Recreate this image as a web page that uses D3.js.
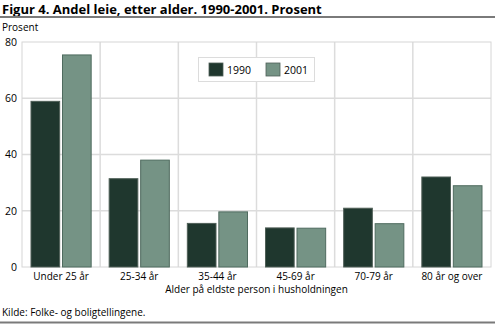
<!DOCTYPE html>
<html><head><meta charset="utf-8">
<script src="https://cdn.jsdelivr.net/npm/d3@7"></script>
<style>body{margin:0;background:#fff}svg{display:block}text{font-family:"Open Sans",sans-serif}</style>
</head><body><svg id="c" width="495" height="324"></svg>
<script>
const categories = ["Under 25 år","25-34 år","35-44 år","45-69 år","70-79 år","80 år og over"];
const seriesNames = ["1990","2001"];
const values1990 = [58.9,31.4,15.5,13.9,20.9,32.0];
const values2001 = [75.4,38.0,19.6,13.8,15.4,28.9];
const yTicks = [0,20,40,60,80];
const colors = ["#1f372e","#759385"];

const svg = d3.select("#c");
const m = {l:22, r:491, t:42, b:267};
const x0 = d3.scaleBand().domain(categories).range([m.l, m.r]).paddingInner(0).paddingOuter(0);
const x1 = d3.scaleBand().domain(seriesNames).range([9, x0.bandwidth()-9]).paddingInner(0.09).paddingOuter(0);
const y = d3.scaleLinear().domain([0,80]).range([m.b, m.t]);

// title
svg.append("text").attr("x",2).attr("y",14).attr("font-size",13).attr("font-weight","bold").attr("fill","#000")
  .text("Figur 4. Andel leie, etter alder. 1990-2001. Prosent");
svg.append("line").attr("x1",0).attr("x2",495).attr("y1",17).attr("y2",17).attr("stroke","#7a7a7a").attr("stroke-width",2);
svg.append("text").attr("x",2).attr("y",31).attr("font-size",10).attr("fill","#000").text("Prosent");

// grid
const g = svg.append("g");
g.selectAll("line.h").data(yTicks.filter(d=>d>0&&d<80)).join("line")
  .attr("x1",m.l).attr("x2",m.r).attr("y1",d=>y(d)).attr("y2",d=>y(d)).attr("stroke","#dcdcdc").attr("stroke-width",1.5);
g.selectAll("line.v").data(categories.slice(1)).join("line")
  .attr("x1",d=>x0(d)).attr("x2",d=>x0(d)).attr("y1",m.t).attr("y2",m.b).attr("stroke","#dcdcdc").attr("stroke-width",1.5);
g.append("rect").attr("x",m.l).attr("y",m.t).attr("width",m.r-m.l).attr("height",m.b-m.t)
  .attr("fill","none").attr("stroke","#d6d6d6").attr("stroke-width",1);

// y axis
const ya = svg.append("g").attr("transform",`translate(${m.l},0)`)
  .call(d3.axisLeft(y).tickValues(yTicks).tickSize(0).tickPadding(5));
ya.select(".domain").remove();
ya.selectAll("text").attr("font-size",10.5).attr("fill","#000").attr("font-family","Open Sans, sans-serif");

// x axis
const xa = svg.append("g").attr("transform",`translate(0,${m.b})`)
  .call(d3.axisBottom(x0).tickSize(0).tickPadding(6));
xa.select(".domain").remove();
xa.selectAll("text").attr("font-size",10).attr("fill","#000").attr("font-family","Open Sans, sans-serif");

// bars
const data = categories.map((c,i)=>({c, v:[values1990[i], values2001[i]]}));
const groups = svg.append("g").selectAll("g").data(data).join("g").attr("transform",d=>`translate(${x0(d.c)},0)`);
groups.selectAll("rect").data(d=>d.v.map((v,j)=>({s:seriesNames[j],v,j}))).join("rect")
  .attr("x",d=>x1(d.s)).attr("width",x1.bandwidth())
  .attr("y",d=>y(d.v)).attr("height",d=>y(0)-y(d.v))
  .attr("fill",d=>colors[d.j]).attr("stroke",d=>d.j===0?"#4f5f57":"#4f6b5f").attr("stroke-width",1);

// axis title
svg.append("text").attr("x",(m.l+m.r)/2).attr("y",293).attr("text-anchor","middle").attr("font-size",10)
  .text("Alder på eldste person i husholdningen");

// legend
const lg = svg.append("g");
lg.append("rect").attr("x",198.5).attr("y",57.5).attr("width",116).attr("height",24).attr("fill","#fff").attr("stroke","#dcdcdc");
seriesNames.forEach((s,i)=>{
  const lx = 209 + i*57;
  lg.append("rect").attr("x",lx).attr("y",63).attr("width",14).attr("height",13).attr("fill",colors[i]).attr("stroke","#4f5f57").attr("stroke-width",0.8);
  lg.append("text").attr("x",lx+18).attr("y",73.5).attr("font-size",10.5).text(s);
});

// source
svg.append("text").attr("x",2).attr("y",316).attr("font-size",10).text("Kilde: Folke- og boligtellingene.");
svg.append("line").attr("x1",0).attr("x2",495).attr("y1",322.5).attr("y2",322.5).attr("stroke","#7a7a7a").attr("stroke-width",2);
</script></body></html>
